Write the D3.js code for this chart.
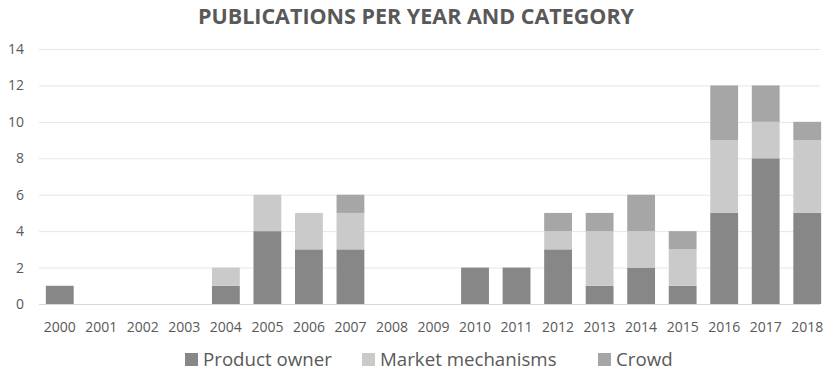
<!DOCTYPE html>
<html>
<head>
<meta charset="utf-8">
<script src="https://cdn.jsdelivr.net/npm/d3@7"></script>
<style>
  body { margin: 0; background: #fff; }
  text { font-family: "Open Sans", sans-serif; fill: #595959; }
</style>
</head>
<body>
<div id="chart"></div>
<script>
var years = ["2000", "2001", "2002", "2003", "2004", "2005", "2006", "2007", "2008", "2009",
  "2010", "2011", "2012", "2013", "2014", "2015", "2016", "2017", "2018"];
var productOwner = [1, 0, 0, 0, 1, 4, 3, 3, 0, 0, 2, 2, 3, 1, 2, 1, 5, 8, 5];
var marketMechanisms = [0, 0, 0, 0, 1, 2, 2, 2, 0, 0, 0, 0, 1, 3, 2, 2, 4, 2, 4];
var crowd = [0, 0, 0, 0, 0, 0, 0, 1, 0, 0, 0, 0, 1, 1, 2, 1, 3, 2, 1];
var seriesNames = ["Product owner", "Market mechanisms", "Crowd"];
var yTicks = [0, 2, 4, 6, 8, 10, 12, 14];

var colors = ["#878787", "#c9cac9", "#a6a6a6"];

var width = 826, height = 371;
var margin = { top: 49, right: 0, bottom: 67, left: 39 };

var svg = d3.select("#chart").append("svg")
  .attr("width", width)
  .attr("height", height);

// build rows for the stack
var rows = years.map(function(y, i) {
  return { year: y, "Product owner": productOwner[i], "Market mechanisms": marketMechanisms[i], "Crowd": crowd[i] };
});
var stacked = d3.stack().keys(seriesNames)(rows);

var x = d3.scaleBand()
  .domain(years)
  .range([margin.left, 828])
  .paddingInner(0.33)
  .paddingOuter(0.165);

var y = d3.scaleLinear()
  .domain([0, 14])
  .range([304, margin.top]);

// gridlines
svg.append("g")
  .selectAll("line")
  .data(yTicks.filter(function(d) { return d > 0; }))
  .enter().append("line")
  .attr("x1", margin.left)
  .attr("x2", 820)
  .attr("y1", function(d) { return y(d) + 0.5; })
  .attr("y2", function(d) { return y(d) + 0.5; })
  .style("stroke", "#e6e6e6")
  .style("stroke-width", 1);

// y labels
svg.append("g")
  .selectAll("text")
  .data(yTicks)
  .enter().append("text")
  .attr("x", 24)
  .attr("y", function(d) { return y(d); })
  .attr("dy", "0.36em")
  .style("text-anchor", "end")
  .style("font-size", "14px")
  .text(function(d) { return d; });

// bars
svg.append("g")
  .selectAll("g")
  .data(stacked)
  .enter().append("g")
  .style("fill", function(d, i) { return colors[i]; })
  .selectAll("rect")
  .data(function(d) { return d; })
  .enter().append("rect")
  .attr("x", function(d) { return x(d.data.year); })
  .attr("y", function(d) { return y(d[1]); })
  .attr("width", x.bandwidth())
  .attr("height", function(d) { return y(d[0]) - y(d[1]); });

// axis line
svg.append("line")
  .attr("x1", margin.left)
  .attr("x2", 820)
  .attr("y1", y(0) + 0.5)
  .attr("y2", y(0) + 0.5)
  .style("stroke", "#d9d9d9")
  .style("stroke-width", 1);

// x labels
svg.append("g")
  .selectAll("text")
  .data(years)
  .enter().append("text")
  .attr("x", function(d) { return x(d) + x.bandwidth() / 2; })
  .attr("y", 332)
  .style("text-anchor", "middle")
  .style("font-size", "14px")
  .text(function(d) { return d; });

// title
svg.append("text")
  .attr("x", 416)
  .attr("y", 24)
  .style("text-anchor", "middle")
  .style("font-size", "21.5px")
  .style("font-weight", "bold")
  .text("PUBLICATIONS PER YEAR AND CATEGORY");

// legend
var legendX = [185, 362, 598];
var legend = svg.append("g")
  .selectAll("g")
  .data(seriesNames)
  .enter().append("g")
  .attr("transform", function(d, i) { return "translate(" + legendX[i] + ",0)"; });

legend.append("rect")
  .attr("x", 0)
  .attr("y", 353)
  .attr("width", 13)
  .attr("height", 13)
  .style("fill", function(d, i) { return colors[i]; });

legend.append("text")
  .attr("x", 18)
  .attr("y", 366)
  .style("font-size", "18.7px")
  .text(function(d) { return d; });
</script>
</body>
</html>
